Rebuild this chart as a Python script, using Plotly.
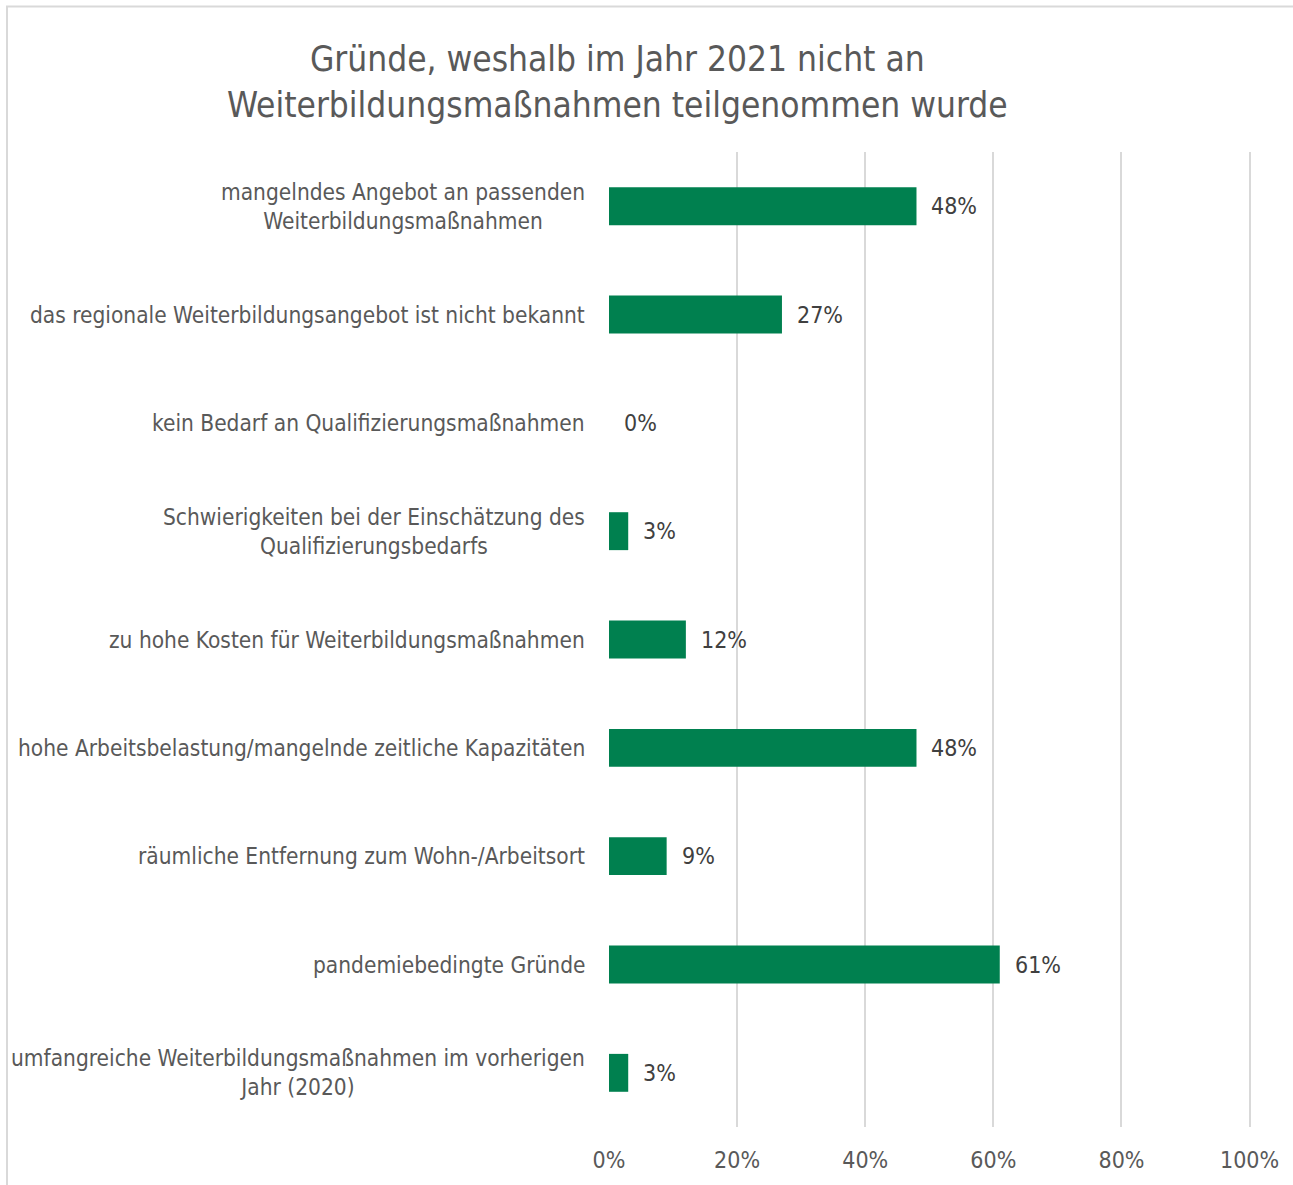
import plotly.graph_objects as go

# Survey data: reasons for not taking part in further training in 2021
categories = [
    "mangelndes Angebot an passenden<br>Weiterbildungsmaßnahmen",
    "das regionale Weiterbildungsangebot ist nicht bekannt",
    "kein Bedarf an Qualifizierungsmaßnahmen",
    "Schwierigkeiten bei der Einschätzung des<br>Qualifizierungsbedarfs",
    "zu hohe Kosten für Weiterbildungsmaßnahmen",
    "hohe Arbeitsbelastung/mangelnde zeitliche Kapazitäten",
    "räumliche Entfernung zum Wohn-/Arbeitsort",
    "pandemiebedingte Gründe",
    "umfangreiche Weiterbildungsmaßnahmen im vorherigen<br>Jahr (2020)",
]
shares = [48, 27, 0, 3, 12, 48, 9, 61, 3]
tick_values = [0, 20, 40, 60, 80, 100]
tick_labels = ["0%", "20%", "40%", "60%", "80%", "100%"]

FONT = "DejaVu Sans Condensed, Liberation Sans Narrow, Roboto, sans-serif"
GREEN = "#00804F"
GREY_TEXT = "#595959"

X_MAX = 101  # headroom so the 100% gridline is drawn

W, H = 1293, 1185
L, T, B = 609, 152, 55
R = W - L - round(641 * X_MAX / 100)
plot_w = W - L - R
plot_h = H - T - B

fig = go.Figure()
fig.add_trace(go.Bar(
    x=shares,
    y=list(range(len(categories))),
    orientation="h",
    marker=dict(color=GREEN, line=dict(width=0)),
    width=0.35,
    hoverinfo="skip",
))

annotations = []
# category labels, centred lines, right-aligned block
for i, c in enumerate(categories):
    annotations.append(dict(
        x=0, y=i, xref="x", yref="y", text=c, showarrow=False,
        xanchor="right", yanchor="middle", align="center", xshift=-22,
        font=dict(family=FONT, size=22.5, color=GREY_TEXT),
    ))
# value labels next to each bar
for i, v in enumerate(shares):
    annotations.append(dict(
        x=v, y=i, xref="x", yref="y", text=f"{v}%", showarrow=False,
        xanchor="left", yanchor="middle", xshift=13,
        font=dict(family=FONT, size=23, color="#404040"),
    ))

title_x = (617 - L) / plot_w
annotations.append(dict(
    x=title_x, y=(H - B - 82) / plot_h, xref="paper", yref="paper",
    text="Gründe, weshalb im Jahr 2021 nicht an<br>Weiterbildungsmaßnahmen teilgenommen wurde",
    showarrow=False, xanchor="center", yanchor="middle", align="center",
    font=dict(family=FONT, size=35, color=GREY_TEXT),
))

# light frame around the chart
frame = dict(
    type="rect", xref="paper", yref="paper",
    x0=(7 - L) / plot_w, x1=(W + 10 - L) / plot_w,
    y0=(H - B - (H + 10)) / plot_h, y1=(H - B - 6) / plot_h,
    line=dict(color="#d9d9d9", width=2), fillcolor="rgba(0,0,0,0)", layer="below",
)

fig.update_layout(
    width=W, height=H,
    margin=dict(l=L, r=R, t=T, b=B),
    paper_bgcolor="white", plot_bgcolor="white",
    showlegend=False,
    annotations=annotations,
    shapes=[frame],
    xaxis=dict(
        range=[0, X_MAX], tickvals=tick_values, ticktext=tick_labels,
        showgrid=True, gridcolor="#d9d9d9", gridwidth=2,
        zeroline=False, showline=False, ticks="",
        tickfont=dict(family=FONT, size=23, color=GREY_TEXT),
        ticklabelstandoff=17, fixedrange=True,
    ),
    yaxis=dict(
        range=[len(categories) - 0.5, -0.5],
        showticklabels=False, showgrid=False, zeroline=False, ticks="",
        fixedrange=True,
    ),
)

fig.write_html("out.html")
